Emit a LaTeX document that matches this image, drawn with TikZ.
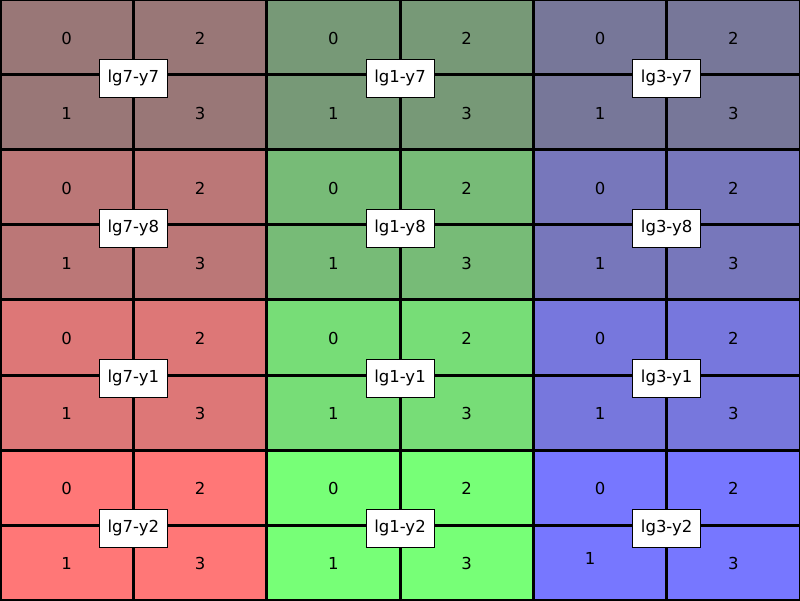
\documentclass[tikz,border=0pt]{standalone}
\usepackage{fontspec}
\setmainfont{DejaVu Sans}
\definecolor{lg7y7}{HTML}{997777}
\definecolor{lg7y8}{HTML}{BB7777}
\definecolor{lg7y1}{HTML}{DD7777}
\definecolor{lg7y2}{HTML}{FF7777}
\definecolor{lg1y7}{HTML}{779977}
\definecolor{lg1y8}{HTML}{77BB77}
\definecolor{lg1y1}{HTML}{77DD77}
\definecolor{lg1y2}{HTML}{77FF77}
\definecolor{lg3y7}{HTML}{777799}
\definecolor{lg3y8}{HTML}{7777BB}
\definecolor{lg3y1}{HTML}{7777DD}
\definecolor{lg3y2}{HTML}{7777FF}

\begin{document}
\begin{tikzpicture}[x=1pt,y=-1pt,
  gridline/.style={line width=3pt,black},
  digit/.style={inner sep=0pt,font=\fontsize{16.5}{19}\selectfont},
  tag/.style={rectangle,draw,fill=white,line width=0.8pt,
    minimum width=68pt,minimum height=38pt,inner sep=0pt,
    font=\fontsize{16.5}{19}\selectfont}]
  \useasboundingbox (0,0) rectangle (800,601);

  % blocks and their cell numbers
  \foreach \c/\lg in {0/lg7,1/lg1,2/lg3}
    \foreach \r/\yy in {0/y7,1/y8,2/y1,3/y2} {
      \fill[\lg\yy] (\c*266.67,\r*150) rectangle (\c*266.67+266.67,\r*150+150);
      \pgfmathsetmacro\dx{(\c==2 && \r==3) ? -10 : 0}
      \pgfmathsetmacro\dy{(\c==2 && \r==3) ? -5 : 0}
      \node[digit] (\lg-\yy-0) at (\c*266.67+66.67,\r*150+38.5) {0};
      \node[digit] (\lg-\yy-1) at (\c*266.67+66.67+\dx,\r*150+113.5+\dy) {1};
      \node[digit] (\lg-\yy-2) at (\c*266.67+200,\r*150+38.5) {2};
      \node[digit] (\lg-\yy-3) at (\c*266.67+200,\r*150+113.5) {3};
    }

  % grid
  \foreach \x in {0,133.33,266.67,400,533.33,666.67,800}
    \draw[gridline] (\x,0) -- (\x,600);
  \foreach \y in {0,75,150,225,300,375,450,525,600}
    \draw[gridline] (0,\y) -- (800,\y);

  % labels
  \foreach \c/\lg in {0/lg7,1/lg1,2/lg3}
    \foreach \r/\yy in {0/y7,1/y8,2/y1,3/y2}
      \node[tag] (\lg-\yy) at (\c*266.67+133.33,\r*150+78) {\lg-\yy};
\end{tikzpicture}
\end{document}
